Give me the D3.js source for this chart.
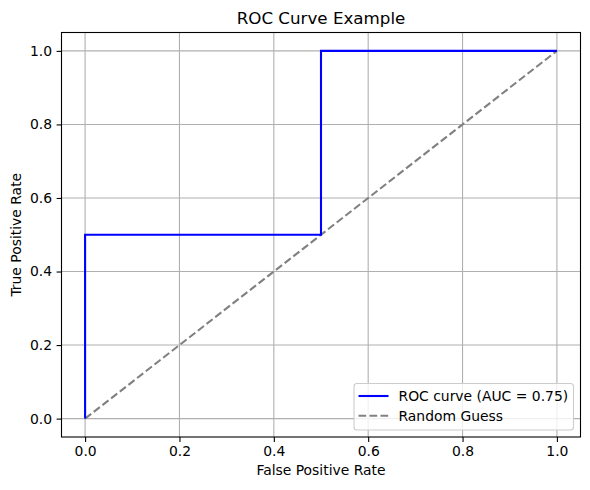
<!DOCTYPE html>
<html>
<head>
<meta charset="utf-8">
<script src="https://cdn.jsdelivr.net/npm/d3@7"></script>
<style>
  body { margin: 0; background: #fff; }
  text { font-family: "DejaVu Sans", sans-serif; fill: #000; }
</style>
</head>
<body>
<div id="chart"></div>
<script>
// ROC points
var fpr = [0, 0, 0.5, 0.5, 1];
var tpr = [0, 0.5, 0.5, 1, 1];
var randomX = [0, 1];
var randomY = [0, 1];
var xTicks = [0, 0.2, 0.4, 0.6, 0.8, 1.0];
var yTicks = [0, 0.2, 0.4, 0.6, 0.8, 1.0];
var legendLabels = ['ROC curve (AUC = 0.75)', 'Random Guess'];

var width = 590;
var height = 490;
var margin = { left: 61.5, right: 9.5, top: 32.5, bottom: 53 };

var svg = d3.select('#chart')
    .append('svg')
    .attr('width', width)
    .attr('height', height);

var x = d3.scaleLinear()
    .domain([-0.05, 1.05])
    .range([margin.left, width - margin.right]);
var y = d3.scaleLinear()
    .domain([-0.05, 1.05])
    .range([height - margin.bottom, margin.top]);

// grid
svg.append('g')
    .selectAll('line')
    .data(xTicks)
    .enter()
    .append('line')
    .attr('x1', (d) => x(d))
    .attr('x2', (d) => x(d))
    .attr('y1', margin.top)
    .attr('y2', height - margin.bottom)
    .attr('stroke', '#b0b0b0')
    .attr('stroke-width', 1.1);
svg.append('g')
    .selectAll('line')
    .data(yTicks)
    .enter()
    .append('line')
    .attr('y1', (d) => y(d))
    .attr('y2', (d) => y(d))
    .attr('x1', margin.left)
    .attr('x2', width - margin.right)
    .attr('stroke', '#b0b0b0')
    .attr('stroke-width', 1.1);

// axes
var xAxis = d3.axisBottom(x).tickValues(xTicks).tickFormat(d3.format('.1f')).tickSizeOuter(0).tickSize(4.9).tickPadding(4.5);
var yAxis = d3.axisLeft(y).tickValues(yTicks).tickFormat(d3.format('.1f')).tickSizeOuter(0).tickSize(4.9).tickPadding(4.5);

var gx = svg.append('g')
    .attr('transform', 'translate(0,' + (height - margin.bottom) + ')')
    .call(xAxis);
var gy = svg.append('g')
    .attr('transform', 'translate(' + margin.left + ',0)')
    .call(yAxis);
[gx, gy].forEach(function (g) {
    g.select('.domain').remove();
    g.selectAll('text').attr('font-size', 13.9).attr('font-family', 'DejaVu Sans');
    g.selectAll('line').attr('stroke', '#000').attr('stroke-width', 1.1);
});

// random guess line
var line = d3.line().x((d) => x(d[0])).y((d) => y(d[1]));
svg.append('path')
    .attr('d', line(d3.zip(randomX, randomY)))
    .attr('fill', 'none')
    .attr('stroke', 'gray')
    .attr('stroke-width', 2.1)
    .attr('stroke-dasharray', '7.7,3.3');

// ROC curve
svg.append('path')
    .attr('d', line(d3.zip(fpr, tpr)))
    .attr('fill', 'none')
    .attr('stroke', 'blue')
    .attr('stroke-width', 2.1);

// frame
svg.append('rect')
    .attr('x', margin.left)
    .attr('y', margin.top)
    .attr('width', width - margin.left - margin.right)
    .attr('height', height - margin.top - margin.bottom)
    .attr('fill', 'none')
    .attr('stroke', '#000')
    .attr('stroke-width', 1.1);

// titles
svg.append('text')
    .attr('x', (margin.left + width - margin.right) / 2)
    .attr('y', 23.5)
    .attr('text-anchor', 'middle')
    .attr('font-size', 16.7)
    .text('ROC Curve Example');
svg.append('text')
    .attr('x', (margin.left + width - margin.right) / 2)
    .attr('y', 475)
    .attr('text-anchor', 'middle')
    .attr('font-size', 13.9)
    .text('False Positive Rate');
svg.append('text')
    .attr('transform', 'translate(21,' + ((margin.top + height - margin.bottom) / 2) + ') rotate(-90)')
    .attr('text-anchor', 'middle')
    .attr('font-size', 13.9)
    .text('True Positive Rate');

// legend
var legend = svg.append('g');
legend.append('rect')
    .attr('x', 354)
    .attr('y', 383.5)
    .attr('width', 219.5)
    .attr('height', 46.5)
    .attr('rx', 3)
    .attr('fill', 'rgba(255,255,255,0.8)')
    .attr('stroke', '#cccccc')
    .attr('stroke-width', 1.1);
var legendColors = ['blue', 'gray'];
var legendDash = [null, '7.7,3.3'];
var items = legend.selectAll('g.item')
    .data(legendLabels)
    .enter()
    .append('g')
    .attr('transform', (d, i) => 'translate(0,' + (396 + i * 19.7) + ')');
items.append('line')
    .attr('x1', 358.5)
    .attr('x2', 388.5)
    .attr('stroke', (d, i) => legendColors[i])
    .attr('stroke-width', 2.1)
    .attr('stroke-dasharray', (d, i) => legendDash[i]);
items.append('text')
    .attr('x', 398.5)
    .attr('dy', '0.35em')
    .attr('font-size', 13.9)
    .text((d) => d);
</script>
</body>
</html>
